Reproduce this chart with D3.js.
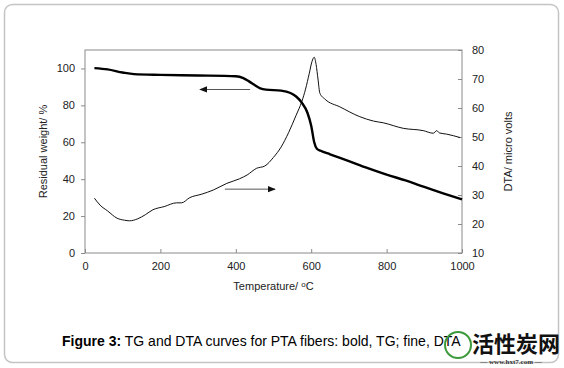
<!DOCTYPE html>
<html><head><meta charset="utf-8">
<script src="https://cdn.jsdelivr.net/npm/d3@7"></script>
<style>
html,body{margin:0;padding:0;background:#fff;}
svg{display:block;font-family:"Liberation Sans",Arial,sans-serif;}
</style></head>
<body>
<script>
const tgTemp = [25,60,100,130,200,300,400,420,435,450,465,480,520,545,560,575,590,600,608,615,625,650,700,750,800,850,900,950,1000];
const tgVal  = [100.2,99.5,97.8,96.9,96.5,96.2,95.8,94.8,93,91,89.2,88.5,88,86.7,84.8,81.5,76,69,60,56.5,55.4,53.5,49.8,46,42.5,39.3,35.8,32.3,29];
const dtaTemp = [25,40,60,85,105,118,140,160,180,210,243,256,278,310,340,376,410,430,455,477,500,520,540,560,575,585,595,602,608,613,618,623,637,676,729,765,791,844,897,924,933,940,959,995];
const dtaVal  = [28.9,26.5,24.5,22.0,21.3,21.1,21.8,23.2,24.9,26.0,27.3,27.3,29.1,30.3,31.7,34,35.6,36.9,39.2,40,43,46.5,51.5,57.5,62.2,66.5,72,76,77.5,75,70,65.1,63,60.4,57,55.5,54.9,53,52.2,51.3,52.2,51.4,51,49.8];
const xTicks = [0,200,400,600,800,1000];
const leftTicks = [0,20,40,60,80,100];
const rightTicks = [10,20,30,40,50,60,70,80];
const arrowTG = [[438,88.6],[305,88.6]];
const arrowDTA = [[371,34.6],[504,34.6]];

const W=564,H=368;
const svg=d3.select("body").append("svg").attr("width",W).attr("height",H);
svg.append("rect").attr("x",4.5).attr("y",4.5).attr("width",W-10).attr("height",H-10)
  .attr("rx",8).attr("fill","#fff").attr("stroke","#c4c4c4").attr("stroke-width",1.5);

const L=85,R=462,T=50,B=253;
const x=d3.scaleLinear().domain([0,1000]).range([L,R]);
const yL=d3.scaleLinear().domain([0,110]).range([B,T]);
const yR=d3.scaleLinear().domain([10,80]).range([B,T]);
const axisCol="#8a8a8a";

svg.append("rect").attr("x",L).attr("y",T).attr("width",R-L).attr("height",B-T)
  .attr("fill","none").attr("stroke",axisCol).attr("stroke-width",1);

function styleAxis(g){
  g.select(".domain").remove();
  g.selectAll(".tick line").attr("stroke",axisCol);
  g.selectAll(".tick text").attr("fill","#222").attr("font-size","11px").attr("font-family","Liberation Sans, Arial, sans-serif");
}
svg.append("g").attr("transform",`translate(0,${B})`)
  .call(d3.axisBottom(x).tickValues(xTicks).tickFormat(d3.format("d")).tickSizeInner(-4).tickSizeOuter(0).tickPadding(9))
  .call(styleAxis);
svg.append("g").attr("transform",`translate(${L},0)`)
  .call(d3.axisLeft(yL).tickValues(leftTicks).tickSizeInner(4).tickSizeOuter(0).tickPadding(6))
  .call(styleAxis);
svg.append("g").attr("transform",`translate(${R},0)`)
  .call(d3.axisRight(yR).tickValues(rightTicks).tickSizeInner(-4).tickSizeOuter(0).tickPadding(10))
  .call(styleAxis);

const tg=tgTemp.map((t,i)=>[t,tgVal[i]]);
const dta=dtaTemp.map((t,i)=>[t,dtaVal[i]]);
svg.append("path").datum(dta).attr("fill","none").attr("stroke","#111").attr("stroke-width",1)
  .attr("d",d3.line().x(d=>x(d[0])).y(d=>yR(d[1])).curve(d3.curveMonotoneX));
svg.append("path").datum(tg).attr("fill","none").attr("stroke","#000").attr("stroke-width",2.4)
  .attr("d",d3.line().x(d=>x(d[0])).y(d=>yL(d[1])).curve(d3.curveMonotoneX));

const defs=svg.append("defs");
defs.append("marker").attr("id","ah").attr("viewBox","0 0 10 10").attr("refX",9).attr("refY",5)
  .attr("markerWidth",8).attr("markerHeight",8).attr("markerUnits","userSpaceOnUse").attr("orient","auto")
  .append("path").attr("d","M0,1 L10,5 L0,9 Z").attr("fill","#111");
[arrowTG,arrowDTA].forEach(a=>{
  svg.append("line").attr("x1",x(a[0][0])).attr("y1",yL(a[0][1])).attr("x2",x(a[1][0])).attr("y2",yL(a[1][1]))
    .attr("stroke","#555").attr("stroke-width",1).attr("marker-end","url(#ah)");
});

svg.append("text").attr("x",(L+R)/2).attr("y",290).attr("text-anchor","middle").attr("font-size","11px").attr("fill","#222")
  .html('Temperature/ <tspan font-size="8px" dy="-3">o</tspan><tspan dy="3">C</tspan>');
svg.append("text").attr("transform",`translate(47,151.5) rotate(-90)`).attr("text-anchor","middle")
  .attr("font-size","11px").attr("fill","#222").text("Residual weight/ %");
svg.append("text").attr("transform",`translate(512,${(T+B)/2}) rotate(-90)`).attr("text-anchor","middle")
  .attr("font-size","11px").attr("fill","#222").text("DTA/ micro volts");

const cap=svg.append("text").attr("x",62).attr("y",346).attr("font-size","14px").attr("fill","#000");
cap.append("tspan").attr("font-weight","bold").text("Figure 3:");
cap.append("tspan").text(" TG and DTA curves for PTA fibers: bold, TG; fine, DTA");

const wm=svg.append("g");
wm.append("circle").attr("cx",458).attr("cy",345).attr("r",13).attr("fill","none").attr("stroke","#3c9a3c").attr("stroke-width",2);
wm.append("text").attr("x",472).attr("y",352).attr("font-size","22px").attr("font-weight","bold")
  .attr("font-family","Noto Sans CJK SC").attr("fill","#111").text("活性炭网");
wm.append("text").attr("x",511).attr("y",364).attr("text-anchor","middle").attr("font-size","7px").attr("font-weight","bold")
  .attr("font-family","Liberation Serif").attr("fill","#333").text("— www.hxt7.com —");
</script>
</body></html>
